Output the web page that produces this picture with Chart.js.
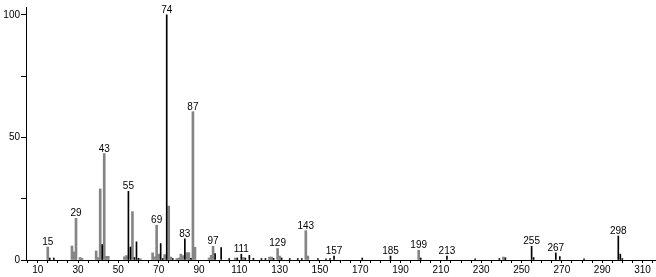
<!DOCTYPE html>
<html>
<head>
<meta charset="utf-8">
<script src="https://cdn.jsdelivr.net/npm/chart.js@4.4.0/dist/chart.umd.min.js"></script>
<style>
  html, body { margin: 0; padding: 0; background: #fff; }
  canvas { display: block; }
</style>
</head>
<body>
<canvas id="spectrum" width="656" height="277"></canvas>
<script>
// peaks drawn as thin black lines
var darkMz  = [16, 18, 42, 55, 56, 58, 59, 60, 71, 72, 74, 77, 83, 86, 98, 101, 105, 109, 111, 113, 115, 117, 121, 123, 127, 131, 135, 139, 141, 149, 153, 155, 157, 171, 185, 200, 213, 227, 239, 242, 255, 256, 267, 269, 281, 298, 299, 300];
var darkInt = [0.8, 0.8, 6.3, 28.0, 5.3, 1.0, 7.4, 0.7, 6.7, 0.6, 100, 0.6, 8.6, 0.7, 2.6, 5.1, 0.6, 0.8, 2.4, 0.8, 1.9, 0.7, 0.6, 0.6, 0.7, 0.8, 0.6, 0.6, 0.6, 0.6, 0.5, 0.6, 1.6, 0.8, 1.6, 0.8, 1.6, 0.5, 0.6, 0.9, 5.6, 1.0, 2.9, 1.4, 0.5, 9.8, 2.4, 0.6];

// peaks drawn as wider grey lines
var grayMz  = [15, 27, 28, 29, 31, 32, 39, 40, 41, 43, 44, 45, 53, 54, 57, 61, 67, 68, 69, 70, 73, 75, 76, 79, 80, 81, 82, 84, 85, 87, 88, 95, 96, 97, 108, 112, 125, 126, 129, 130, 143, 144, 199, 241];
var grayInt = [5.3, 5.7, 3.3, 17.0, 1.0, 0.7, 3.7, 1.0, 29.0, 43.4, 1.5, 1.5, 1.3, 1.8, 19.7, 0.5, 2.9, 1.3, 14.2, 2.4, 2.2, 22.0, 1.2, 0.6, 0.8, 2.4, 1.8, 3.0, 3.0, 60.5, 5.2, 0.8, 1.9, 5.6, 0.8, 1.0, 1.2, 1.2, 4.7, 1.6, 12.0, 1.6, 4.0, 1.2];

var labeledMz = [15, 29, 43, 55, 69, 74, 83, 87, 97, 111, 129, 143, 157, 185, 199, 213, 255, 267, 298];

var xTicks = [];
for (var t = 5; t <= 315; t += 5) xTicks.push(t);
var xTickLabels = [10, 30, 50, 70, 90, 110, 130, 150, 170, 190, 210, 230, 250, 270, 290, 310];
var yTicks = [0, 25, 50, 75, 100];
var yTickLabels = [0, 50, 100];

var FONT = "'Liberation Sans', Arial, sans-serif";
Chart.defaults.font.family = FONT;
Chart.defaults.font.size = 10;
Chart.defaults.color = '#000';

function toPoints(mz, ints) {
    return mz.map(function (m, i) { return { x: m, y: ints[i] }; });
}

function intensityOf(m) {
    var i = darkMz.indexOf(m);
    if (i >= 0) return darkInt[i];
    i = grayMz.indexOf(m);
    return i >= 0 ? grayInt[i] : 0;
}

// mass numbers written over the main peaks
var peakLabels = {
    id: 'peakLabels',
    afterDatasetsDraw: function (chart) {
        var ctx = chart.ctx, x = chart.scales.x, y = chart.scales.y;
        ctx.save();
        ctx.fillStyle = '#000';
        ctx.font = '10px ' + FONT;
        ctx.textAlign = 'center';
        ctx.textBaseline = 'alphabetic';
        labeledMz.forEach(function (m) {
            ctx.fillText(String(m), x.getPixelForValue(m), y.getPixelForValue(intensityOf(m)) - 2);
        });
        ctx.restore();
    }
};

new Chart(document.getElementById('spectrum'), {
    type: 'bar',
    data: {
        datasets: [
            { data: toPoints(darkMz, darkInt), backgroundColor: '#000', barThickness: 1, grouped: false },
            { data: toPoints(grayMz, grayInt), backgroundColor: '#858585', barThickness: 2, grouped: false }
        ]
    },
    options: {
        responsive: false,
        animation: false,
        devicePixelRatio: 1,
        layout: { padding: { top: 3, right: 0, bottom: 0, left: 0 } },
        plugins: { legend: { display: false }, tooltip: { enabled: false } },
        scales: {
            x: {
                type: 'linear',
                min: 4.2,
                max: 316.7,
                offset: false,
                grid: { display: true, drawOnChartArea: false, drawTicks: true, tickLength: 3, color: '#000', offset: false },
                border: { display: true, color: '#000', width: 1 },
                afterBuildTicks: function (s) { s.ticks = xTicks.map(function (v) { return { value: v }; }); },
                ticks: {
                    autoSkip: false, maxRotation: 0, padding: 1,
                    callback: function (v) { return xTickLabels.indexOf(v) >= 0 ? String(v) : ''; }
                },
                afterFit: function (s) { s.height = 17; }
            },
            y: {
                min: 0,
                max: 103.2,
                grid: { display: true, drawOnChartArea: false, drawTicks: true, tickLength: 5, color: '#000' },
                border: { display: true, color: '#000', width: 1 },
                afterBuildTicks: function (s) { s.ticks = yTicks.map(function (v) { return { value: v }; }); },
                ticks: {
                    autoSkip: false, padding: 1,
                    callback: function (v) { return yTickLabels.indexOf(v) >= 0 ? String(v) : ''; }
                },
                afterFit: function (s) { s.width = 26; }
            }
        }
    },
    plugins: [peakLabels]
});
</script>
</body>
</html>
